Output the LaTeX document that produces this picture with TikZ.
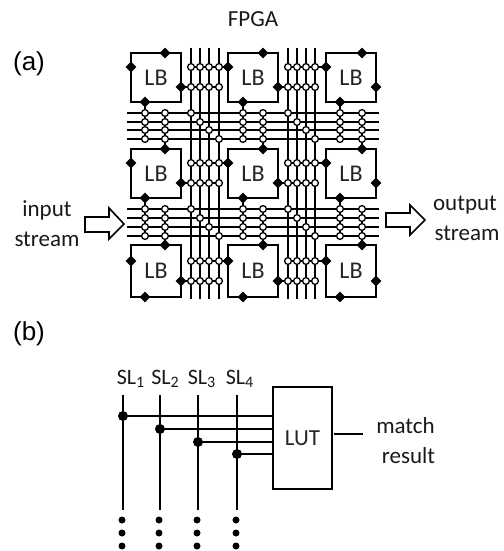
\documentclass[tikz,border=0pt]{standalone}
\usepackage{fontspec}
\setmainfont{Carlito}
\newfontfamily\arialf{Liberation Sans}
\usetikzlibrary{shapes.geometric}
\tikzset{
  x=1pt,y=-1pt,
  wire/.style={line width=1.6pt,black},
  lbbox/.style={draw,line width=1.6pt,minimum width=50pt,inner sep=0pt,font=\fontsize{24}{24}\selectfont,text=black!85},
  dia/.style={diamond,fill=black,draw=none,minimum width=11pt,minimum height=11pt,inner sep=0pt},
  sw/.style={circle,fill=white,draw=black,line width=1.3pt,minimum size=6.8pt,inner sep=0pt},
  dotn/.style={circle,fill=black,draw=none,minimum size=7pt,inner sep=0pt},
  tap/.style={circle,fill=black,draw=none,minimum size=10pt,inner sep=0pt},
  lab/.style={font=\fontsize{23}{23}\selectfont,text=black!90,inner sep=0pt,anchor=base},
  sllab/.style={font=\fontsize{22}{22}\selectfont,text=black!90,inner sep=0pt,anchor=base},
  big/.style={font=\arialf\fontsize{26}{26}\selectfont,inner sep=0pt},
  blockarrow/.style={draw,line width=1.6pt,fill=white,line join=miter}
}
\newcommand{\slsub}[1]{\raisebox{-3pt}{\fontsize{16}{16}\selectfont #1}}
\begin{document}
\begin{tikzpicture}
\useasboundingbox (0,0) rectangle (503,551);
% ---- routing wires
\foreach \vx/\vn in {191/a,200/b,209/c,219/d,288/e,297/f,306/g,315/h}{
  \coordinate (vt\vn) at (\vx,48);
  \coordinate (vb\vn) at (\vx,299);
  \draw[wire] (vt\vn) -- (vb\vn);
}
\foreach \hy/\hn in {113/a,122/b,130/c,139/d,209/e,218/f,227/g,236/h}{
  \coordinate (hl\hn) at (127,\hy);
  \coordinate (hr\hn) at (379,\hy);
  \draw[wire] (hl\hn) -- (hr\hn);
}
% ---- logic blocks
\foreach \cx/\c in {156/1,253/2,351/3}{
  \foreach \cy/\r/\hh in {77.5/1/49,173.5/2/49,271/3/52}{
    \node[lbbox,minimum height=\hh pt] (lb\r\c) at (\cx,\cy) {LB};
  }
}
% ---- block pins: left/right
\foreach \r/\yl/\yr in {1/67/87,2/163/183,3/261/281}{
  \foreach \c/\xl/\xr in {1/131/181,2/228/278,3/326/376}{
    \node[dia] (pl\r\c) at (\xl,\yl) {};
    \node[dia] (pr\r\c) at (\xr,\yr) {};
  }
}
% ---- block pins: top/bottom
\foreach \r/\yt/\yb in {1/53/102,2/149/198,3/245/297}{
  \foreach \c/\xb/\xt in {1/145/165,2/243/263,3/340/362}{
    \node[dia] (pt\r\c) at (\xt,\yt) {};
    \node[dia] (pb\r\c) at (\xb,\yb) {};
  }
}
% ---- stubs from left/right pins to the vertical channels
\foreach \r in {1,2,3}{
  \draw[wire] (pl\r2.center) -- (pl\r2.center -| vta);
  \draw[wire] (pl\r3.center) -- (pl\r3.center -| vte);
  \draw[wire] (pr\r1.center) -- (pr\r1.center -| vtd);
  \draw[wire] (pr\r2.center) -- (pr\r2.center -| vth);
}
\foreach \vx/\vn in {191/a,200/b,209/c,219/d,288/e,297/f,306/g,315/h}{
  \foreach \y/\k in {67/1,87/2,163/3,183/4,261/5,281/6}{
    \node[sw] (s\vn\k) at (\vx,\y) {};
  }
}
% ---- stubs from top/bottom pins to the horizontal channels
\foreach \c in {1,2,3}{
  \draw[wire] (pb1\c.center) -- (pb1\c.center |- hld);
  \draw[wire] (pt2\c.center) -- (pt2\c.center |- hla);
  \draw[wire] (pb2\c.center) -- (pb2\c.center |- hlh);
  \draw[wire] (pt3\c.center) -- (pt3\c.center |- hle);
}
\foreach \hy/\hn in {113/a,122/b,130/c,139/d,209/e,218/f,227/g,236/h}{
  \foreach \x/\k in {145/1,165/2,243/3,263/4,340/5,362/6}{
    \node[sw] (t\hn\k) at (\x,\hy) {};
  }
}
% ---- channel crossing switches
\foreach \v/\h in {a/a,b/b,c/c,d/d,e/a,f/b,g/c,h/d,a/e,b/f,c/g,d/h,e/e,f/f,g/g,h/h}{
  \node[sw] (x\v\h) at (vt\v |- hl\h) {};
}
% ---- texts part (a)
\node[lab] (fpga) at (253,27) {FPGA};
\node[big] (la) at (29,64) {(a)};
\node[big] (lb) at (29,334) {(b)};
\node[lab] (inp) at (47,216) {input};
\node[lab] (ins) at (47,246) {stream};
\node[lab] (outp) at (465,210) {output};
\node[lab] (outs) at (467,240) {stream};
\draw[blockarrow] (85,217) -- (109,217) -- (109,208) -- (124,224) -- (109,239) -- (109,232) -- (85,232) -- cycle;
\draw[blockarrow] (386,213) -- (410,213) -- (410,205) -- (425,220) -- (410,235) -- (410,227) -- (386,227) -- cycle;
% ---- part (b)
\node[draw,line width=1.6pt,minimum width=59pt,minimum height=102pt,inner sep=0pt,font=\fontsize{23}{23}\selectfont,text=black!85] (lut) at (302.5,438) {LUT};
\foreach \x/\y/\i/\tx in {123/416/1/130.5,160/429/2/165,198/442/3/201.5,237/454/4/239.5}{
  \node[sllab] (sl\i) at (\tx,384) {SL\slsub{\i}};
  \coordinate (st\i) at (\x,395);
  \coordinate (se\i) at (\x,510);
  \node[tap] (tp\i) at (\x,\y) {};
  \draw[wire] (st\i) -- (se\i);
  \draw[wire] (tp\i.center) -- (tp\i.center -| lut.west);
  \node[dotn] (da\i) at (\x-1,520) {};
  \node[dotn] (db\i) at (\x-1,533) {};
  \node[dotn] (dc\i) at (\x-1,546) {};
}
\node[lab] (match) at (405.5,433) {match};
\node[lab] (res) at (408.5,463) {result};
\coordinate (lo) at (363,434);
\coordinate (lu) at (334,434);
\draw[wire] (lu) -- (lo);
\end{tikzpicture}
\end{document}
